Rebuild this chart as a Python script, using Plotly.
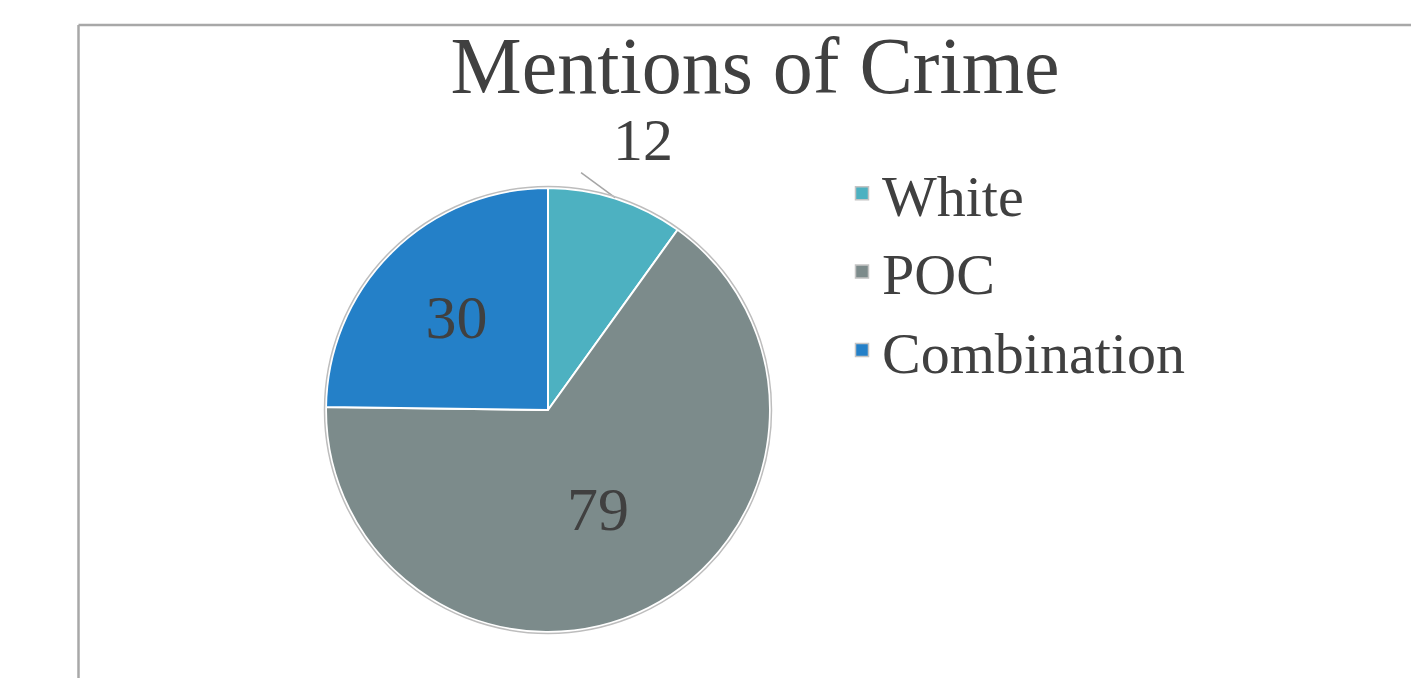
import math
import plotly.graph_objects as go

labels = ["White", "POC", "Combination"]
values = [12, 79, 30]
colors = ["#4DB1C1", "#7C8B8B", "#2480C8"]
title_text = "Mentions of Crime"

W, H = 1411, 678
cx, cy, r = 548, 410, 222  # pie centre / radius in pixels

def px(x):
    return x / W

def py(y):
    return 1 - y / H

font_family = "Liberation Serif"
text_color = "#404040"

total = sum(values)
texttemplate = ["" if i == 0 else "%{value}" for i in range(len(values))]

fig = go.Figure()
fig.add_trace(go.Pie(
    labels=labels,
    values=values,
    sort=False,
    direction="clockwise",
    rotation=0,
    marker=dict(colors=colors, line=dict(color="white", width=2)),
    texttemplate=texttemplate,
    textposition="inside",
    insidetextorientation="horizontal",
    textfont=dict(family=font_family, size=62, color=text_color),
    domain=dict(x=[px(cx - r), px(cx + r)], y=[py(cy + r), py(cy - r)]),
    hoverinfo="label+value",
    showlegend=False,
))

# legend entries (square swatches like the original)
for lab, col in zip(labels, colors):
    fig.add_trace(go.Scatter(
        x=[None], y=[None], mode="markers", name=lab,
        marker=dict(symbol="square", size=13, color=col,
                    line=dict(color="#C4C4C4", width=1.5)),
        hoverinfo="skip",
    ))

# outside label for the first slice, with leader line from the slice edge
mid = (values[0] / 2) / total * 2 * math.pi
ex = cx + r * math.sin(mid)
ey = cy - r * math.cos(mid)
fig.add_shape(type="line", xref="paper", yref="paper",
              x0=px(ex - 1), y0=py(ey - 1), x1=px(ex - 35), y1=py(ey - 26),
              line=dict(color="#A6A6A6", width=1.5))
fig.add_annotation(xref="paper", yref="paper", x=px(ex + 27), y=py(ey - 59),
                   text=str(values[0]), showarrow=False,
                   font=dict(family=font_family, size=60, color=text_color),
                   xanchor="center", yanchor="middle")

# outer grey rim of the pie
fig.add_shape(type="circle", xref="paper", yref="paper",
              x0=px(cx - r - 1.5), x1=px(cx + r + 1.5),
              y0=py(cy + r + 1.5), y1=py(cy - r - 1.5),
              line=dict(color="#BDBDBD", width=1.5))

# chart frame (top and left edges)
fig.add_shape(type="line", xref="paper", yref="paper",
              x0=px(78.5), y0=py(25), x1=1, y1=py(25),
              line=dict(color="#A8A8A8", width=2.5))
fig.add_shape(type="line", xref="paper", yref="paper",
              x0=px(78.5), y0=py(25), x1=px(78.5), y1=0,
              line=dict(color="#A8A8A8", width=2.5))

fig.update_layout(
    width=W, height=H,
    margin=dict(l=0, r=0, t=0, b=0),
    paper_bgcolor="white",
    plot_bgcolor="white",
    xaxis=dict(visible=False),
    yaxis=dict(visible=False),
    title=dict(text=title_text, x=px(755), xanchor="center",
               y=py(65), yanchor="middle",
               font=dict(family=font_family, size=80, color=text_color)),
    legend=dict(x=px(842), y=py(149), xanchor="left", yanchor="top",
                font=dict(family=font_family, size=58, color=text_color),
                bgcolor="rgba(0,0,0,0)", itemsizing="trace"),
    showlegend=True,
)

fig.write_html("out.html")
